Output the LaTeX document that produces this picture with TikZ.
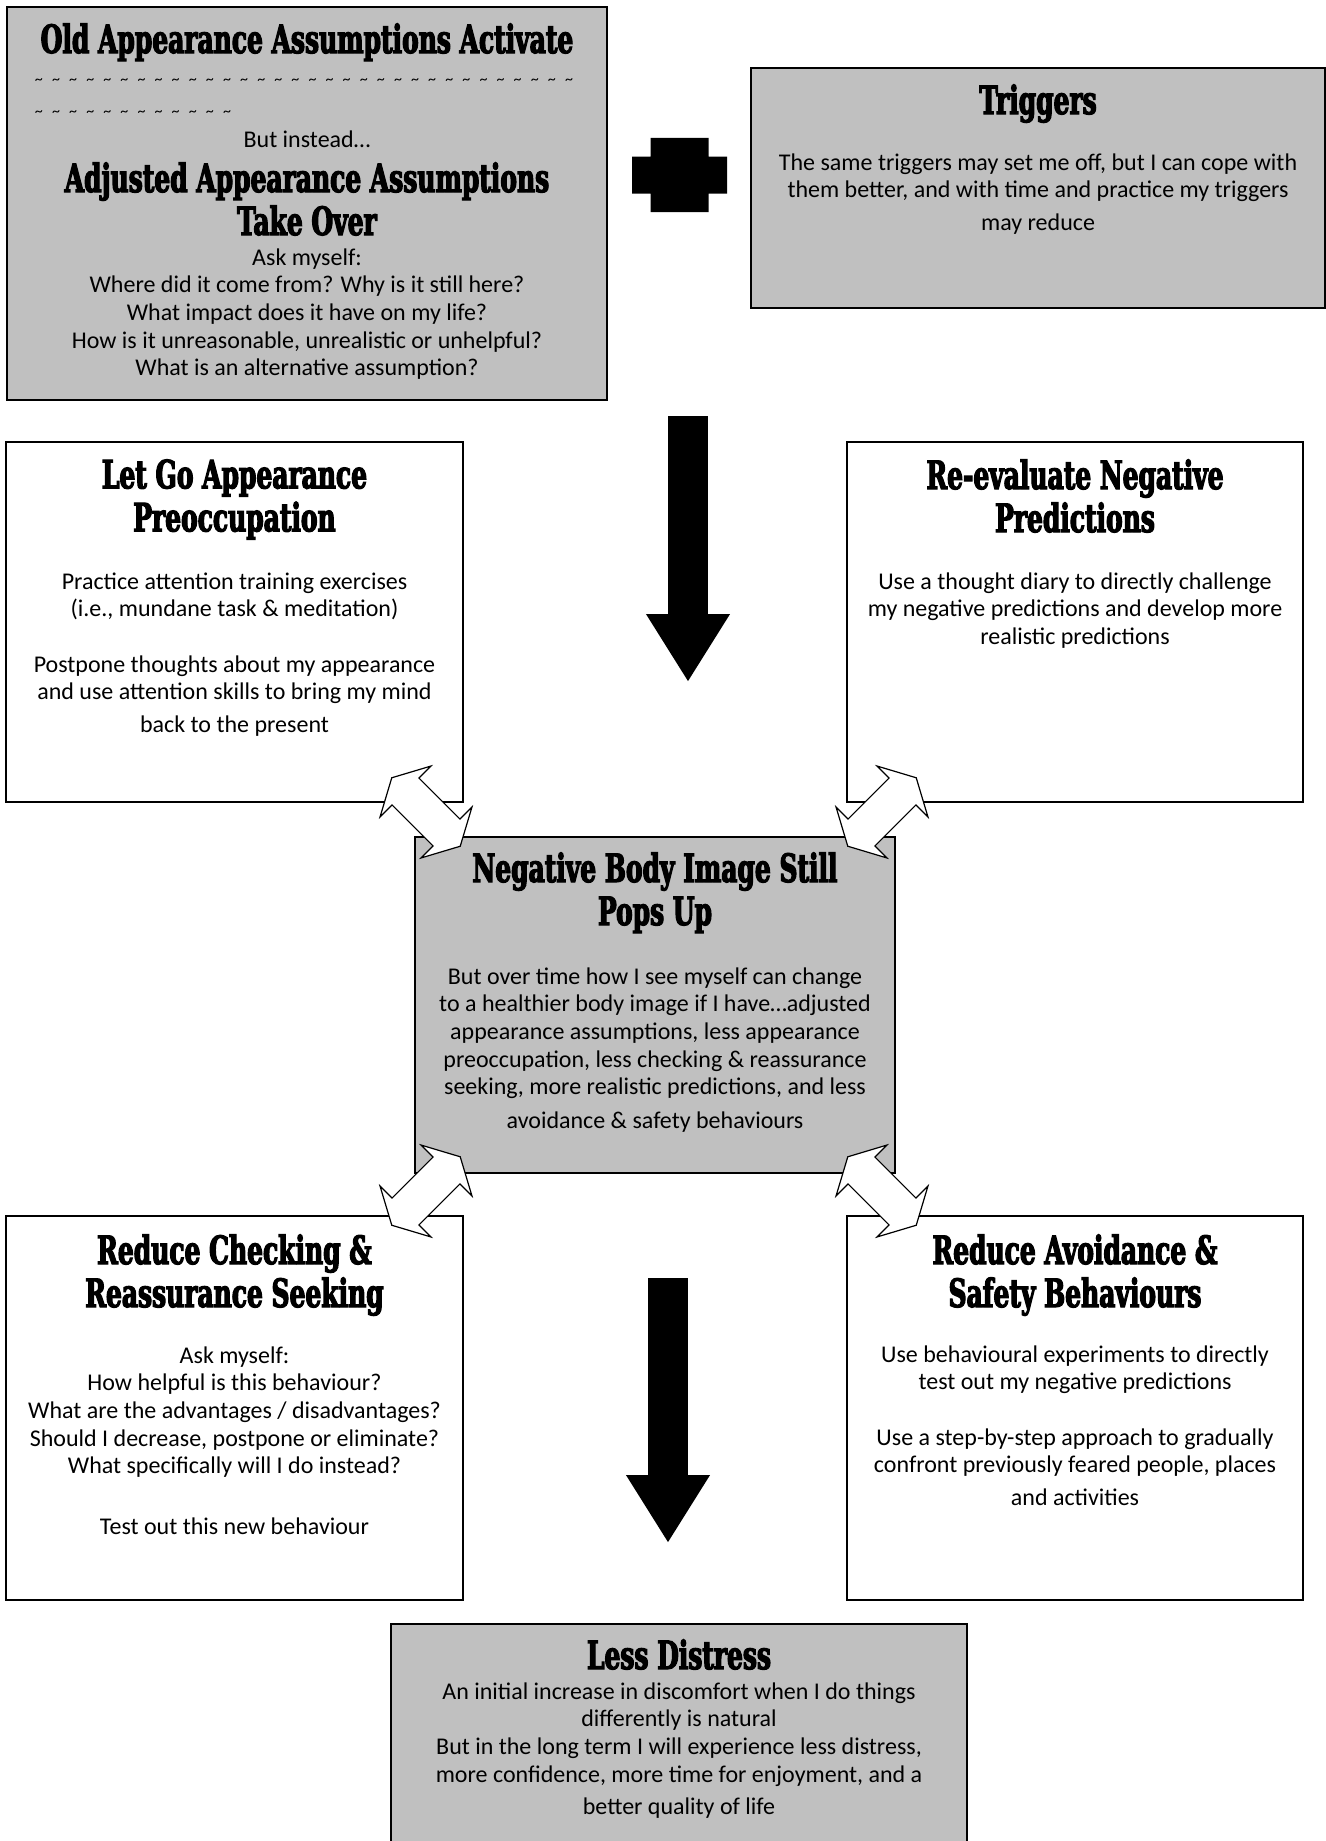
\documentclass[tikz,border=0pt]{standalone}
\usepackage{fontspec}
\setmainfont{Carlito}
\newfontfamily\headfont[FakeStretch=0.64, FakeBold=3]{DejaVu Serif}
\usetikzlibrary{positioning, arrows.meta}
\definecolor{boxgrey}{HTML}{C0C0C0}

\tikzset{
    grey box/.style={draw, fill=boxgrey, line width=1pt, inner sep=0, anchor=north west},
    white box/.style={draw, fill=white, line width=1pt, inner sep=0, anchor=north west},
    titletxt/.style={font=\headfont\bfseries\fontsize{19.5}{21.5}\selectfont, align=center, inner sep=0},
    bodytxt/.style={font=\fontsize{12}{13.85}\selectfont, align=center, inner sep=0},
    wavetxt/.style={font=\fontsize{8}{9}\selectfont, inner sep=0, anchor=west},
    big down/.style={line width=20pt, -{Triangle[length=34pt, width=39.5pt]}},
    pics/both ways/.style={code={
        \draw[fill=white, line width=0.6pt, line join=miter]
            (-48.4,0) -- (-29,36) -- (-29,19) -- (29,19) -- (29,36) -- (48.4,0)
            -- (29,-36) -- (29,-19) -- (-29,-19) -- (-29,-36) -- cycle;
    }}
}

\begin{document}
\begin{tikzpicture}[x=0.5pt, y=-0.5pt]
    \useasboundingbox (0,0) rectangle (1326,1841);

    % top row
    \node[grey box, minimum width=300pt, minimum height=196.5pt] (assume) at (6,6) {};
    \node[titletxt, below=8.5pt of assume.north] (assumeold) {Old Appearance Assumptions Activate};
    \node[wavetxt] (wave1) at (30,82) {\foreach \i in {1,...,32}{\makebox[8.55pt][c]{\textasciitilde}}};
    \node[wavetxt] (wave2) at (30,114) {\foreach \i in {1,...,12}{\makebox[8.55pt][c]{\textasciitilde}}};
    \node[bodytxt, below=62pt of assume.north] (instead) {But instead…};
    \node[titletxt, below=78pt of assume.north] (assumenew) {Adjusted Appearance Assumptions\\Take Over};
    \node[bodytxt, below=121pt of assume.north] (asktxt) {Ask myself:\\Where did it come from? Why is it still here?\\What impact does it have on my life?\\How is it unreasonable, unrealistic or unhelpful?\\What is an alternative assumption?};

    \node[grey box, minimum width=287pt, minimum height=120pt] (trig) at (750,67) {};
    \node[titletxt, below=8.5pt of trig.north] (trigtitle) {Triggers};
    \node[bodytxt, below=43pt of trig.north] (trigtxt) {The same triggers may set me off, but I can cope with\\them better, and with time and practice my triggers\\[2.5pt]may reduce};

    % plus between the two top boxes
    \coordinate (plus) at (679.5,175);
    \fill[shift={(plus)}] (-29,-37) -- (29,-37) -- (29,-18.5) -- (47.5,-18.5) -- (47.5,18.5) -- (29,18.5)
        -- (29,37) -- (-29,37) -- (-29,18.5) -- (-47.5,18.5) -- (-47.5,-18.5) -- (-29,-18.5) -- cycle;

    % middle row
    \node[white box, minimum width=228.5pt, minimum height=180pt] (letgo) at (5,441) {};
    \node[titletxt, below=9pt of letgo.north] (letgotitle) {Let Go Appearance\\Preoccupation};
    \node[bodytxt, below=65.5pt of letgo.north] (letgotxt) {Practice attention training exercises\\(i.e., mundane task \& meditation)\\[13.85pt]Postpone thoughts about my appearance\\and use attention skills to bring my mind\\[2.5pt]back to the present};

    \node[white box, minimum width=228pt, minimum height=180pt] (reeval) at (846,441) {};
    \node[titletxt, below=9pt of reeval.north] (reevaltitle) {Re-evaluate Negative\\Predictions};
    \node[bodytxt, below=65.5pt of reeval.north] (reevaltxt) {Use a thought diary to directly challenge\\my negative predictions and develop more\\realistic predictions};

    \node[grey box, minimum width=240pt, minimum height=168pt] (negimg) at (414,836) {};
    \node[titletxt, below=8pt of negimg.north] (negimgtitle) {Negative Body Image Still\\Pops Up};
    \node[bodytxt, below=65.5pt of negimg.north] (negimgtxt) {But over time how I see myself can change\\to a healthier body image if I have…adjusted\\appearance assumptions, less appearance\\preoccupation, less checking \& reassurance\\seeking, more realistic predictions, and less\\[3pt]avoidance \& safety behaviours};

    % bottom row
    \node[white box, minimum width=228.5pt, minimum height=192pt] (checking) at (5,1215) {};
    \node[titletxt, below=9.5pt of checking.north] (checkingtitle) {Reduce Checking \&\\Reassurance Seeking};
    \node[bodytxt, below=65.5pt of checking.north] (checkingtxt) {Ask myself:\\How helpful is this behaviour?\\What are the advantages / disadvantages?\\Should I decrease, postpone or eliminate?\\What specifically will I do instead?\\[16.6pt]Test out this new behaviour};

    \node[white box, minimum width=228pt, minimum height=192pt] (avoid) at (846,1215) {};
    \node[titletxt, below=9.5pt of avoid.north] (avoidtitle) {Reduce Avoidance \&\\Safety Behaviours};
    \node[bodytxt, below=65pt of avoid.north] (avoidtxt) {Use behavioural experiments to directly\\test out my negative predictions\\[13.85pt]Use a step-by-step approach to gradually\\confront previously feared people, places\\[2.5pt]and activities};

    \node[grey box, minimum width=288pt, minimum height=112.5pt] (distress) at (390,1623) {};
    \node[titletxt, below=8pt of distress.north] (distresstitle) {Less Distress};
    \node[bodytxt, below=29.5pt of distress.north] (distresstxt) {An initial increase in discomfort when I do things\\differently is natural\\But in the long term I will experience less distress,\\more confidence, more time for enjoyment, and a\\[2.5pt]better quality of life};

    % block arrows
    \coordinate (downA) at (688,416);
    \coordinate (downAend) at (688,682);
    \draw[big down] (downA) -- (downAend);
    \coordinate (downB) at (668,1278);
    \coordinate (downBend) at (668,1543);
    \draw[big down] (downB) -- (downBend);

    \coordinate (ulj) at (426,812);
    \coordinate (urj) at (882,812);
    \coordinate (llj) at (426,1191);
    \coordinate (lrj) at (882,1191);
    \pic[rotate=-45] at (ulj) {both ways};
    \pic[rotate=45] at (urj) {both ways};
    \pic[rotate=45] at (llj) {both ways};
    \pic[rotate=-45] at (lrj) {both ways};
\end{tikzpicture}
\end{document}
